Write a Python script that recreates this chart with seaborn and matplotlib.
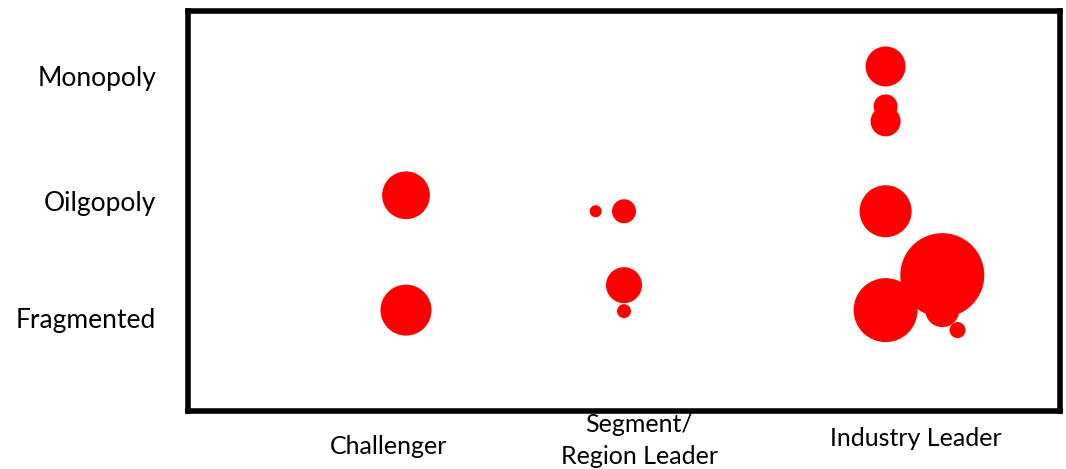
import matplotlib
matplotlib.use("Agg")
import matplotlib.pyplot as plt
import matplotlib.transforms as mtransforms
import seaborn as sns
import pandas as pd

# ---- data ----
x_categories = ["Challenger", "Segment/\nRegion Leader", "Industry Leader"]
y_categories = ["Monopoly", "Oilgopoly", "Fragmented"]

bubble_x = [1.00, 1.00, 1.87, 2.00, 2.00, 2.00, 3.20, 3.20, 3.20, 3.20, 3.20, 3.46, 3.46, 3.53]
bubble_y = [2.16, 1.01, 2.00, 2.00, 1.26, 1.00, 3.45, 3.05, 2.90, 2.00, 1.01, 1.36, 1.01, 0.81]
bubble_value = [570, 650, 36, 144, 324, 49, 400, 144, 225, 676, 1024, 1764, 289, 64]

x_label_pos = [0.92, 2.07, 3.34]
x_label_offset = [-0.088, -0.074, -0.068]
y_label_pos = [3.35, 2.10, 0.93]

df = pd.DataFrame({"x": bubble_x, "y": bubble_y, "value": bubble_value})

sns.set_theme(style="white")
plt.rcParams["font.family"] = ["Lato", "DejaVu Sans"]

fig = plt.figure(figsize=(10.66, 4.69), dpi=100)
ax = fig.add_axes([188 / 1066, 1 - 411 / 469, 872 / 1066, 399.5 / 469])

k = (2 * 0.72) ** 2  # px radius^2 -> pt^2 area
vmin, vmax = min(bubble_value), max(bubble_value)
sns.scatterplot(data=df, x="x", y="y", size="value",
                sizes=(k * vmin, k * vmax), size_norm=(vmin, vmax),
                color="#ff0000", linewidth=0, alpha=1, legend=False, ax=ax)

ax.set_xlim(0, 4)
ax.set_ylim(0, 4)
ax.set_xlabel("")
ax.set_ylabel("")

ax.set_xticks([])
ax.set_yticks(y_label_pos)
ax.set_yticklabels(y_categories, fontsize=19, color="black")
ax.tick_params(axis="y", length=0, pad=23)

trans = mtransforms.blended_transform_factory(ax.transData, ax.transAxes)
for lab, xp, yo in zip(x_categories, x_label_pos, x_label_offset):
    ax.text(xp, yo, lab, transform=trans, ha="center", va="center",
            fontsize=18, color="black", linespacing=1.45, clip_on=False)

for sp in ax.spines.values():
    sp.set_visible(True)
    sp.set_color("black")
    sp.set_linewidth(4)

fig.savefig("out.png", dpi=100, facecolor="white")
